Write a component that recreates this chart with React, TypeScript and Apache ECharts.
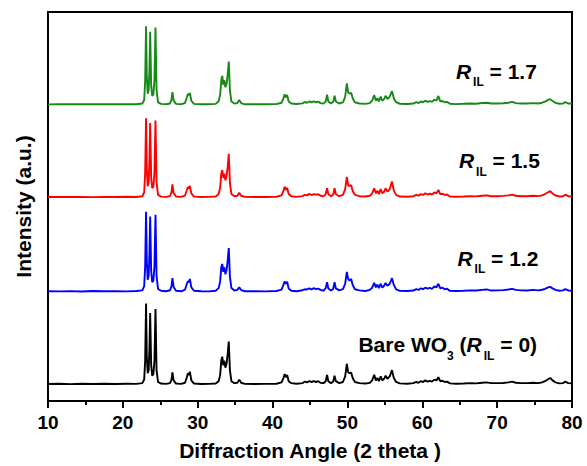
import React, { useEffect, useRef } from "react";
import * as echarts from "echarts";

// Diffraction angle (2θ, degrees) shared by all four patterns
const twoTheta = [
  10.0, 11.5, 13.0, 14.5, 16.0, 17.5, 19.0, 20.5, 21.8, 22.6,
  22.85, 22.98, 23.1, 23.2, 23.32, 23.45, 23.55, 23.65, 23.78, 23.92,
  24.08, 24.22, 24.36, 24.5, 24.7, 25.1, 25.8, 26.3, 26.5, 26.62,
  26.78, 27.1, 27.8, 28.3, 28.55, 28.68, 28.82, 28.95, 29.15, 29.5,
  30.5, 31.5, 32.4, 32.8, 33.0, 33.15, 33.28, 33.42, 33.55, 33.7,
  33.85, 34.0, 34.15, 34.3, 34.5, 34.9, 35.3, 35.55, 35.8, 36.3,
  37.5, 39.0, 40.5, 41.2, 41.45, 41.62, 41.78, 41.95, 42.15, 42.5,
  43.2, 44.0, 44.3, 44.6, 44.9, 45.2, 45.5, 45.8, 46.1, 46.4,
  46.8, 47.1, 47.28, 47.45, 47.8, 48.1, 48.28, 48.45, 48.9, 49.4,
  49.7, 49.92, 50.1, 50.3, 50.5, 50.7, 51.0, 51.6, 52.4, 53.0,
  53.3, 53.58, 53.8, 54.0, 54.2, 54.45, 54.65, 54.9, 55.1, 55.35,
  55.65, 55.95, 56.2, 56.5, 57.0, 58.0, 58.8, 59.2, 59.5, 59.8,
  60.1, 60.4, 60.7, 61.0, 61.3, 61.6, 61.9, 62.15, 62.4, 62.7,
  63.0, 63.3, 63.7, 64.5, 65.5, 66.4, 67.2, 68.0, 68.6, 69.2,
  70.0, 70.8, 71.5, 72.0, 72.5, 73.2, 74.0, 74.8, 75.5, 76.0,
  76.4, 76.8, 77.1, 77.4, 77.8, 78.3, 78.8, 79.1, 79.5, 80.0,
];

// Intensities (a.u.) for each sample
const bareWO3 = [
  0.5, 0.8, 0.3, 0.7, 0.4, 0.8, 0.4, 0.7, 0.6, 1.5,
  6, 30, 102, 35, 14, 18, 45, 90, 25, 11,
  13, 30, 95, 18, 3, 1, 0.6, 1.5, 6, 15,
  5, 1, 0.6, 2, 9, 14, 12, 16, 5, 1,
  0.5, 0.6, 1, 4, 12, 30, 35, 24, 30, 21,
  26, 38, 54, 18, 4, 1.5, 2, 6, 2, 0.6,
  0.4, 0.6, 0.8, 2.5, 8, 13, 9, 12, 4, 1.5,
  0.8, 1.5, 3.5, 2.5, 4, 3, 4, 3, 4, 2,
  1.5, 4, 12, 4, 1.5, 3.5, 11, 4, 1.5, 3,
  10, 26, 15, 14, 15, 8, 3, 1.5, 1, 2,
  5, 12, 5, 8, 4, 10, 5, 7, 11, 7,
  10, 18, 8, 3, 1.2, 0.8, 1.5, 3, 2, 4,
  3, 5, 3.5, 4.5, 3.5, 6, 5, 9, 4, 4.5,
  3, 3.5, 1.2, 0.8, 1, 1.5, 1.2, 2, 2.5, 1.5,
  1.5, 1.8, 2.5, 3.5, 2, 1.5, 1.5, 2, 1.5, 2.5,
  4, 6.5, 8, 5, 2.5, 1.2, 1.5, 3.5, 1.5, 1.2,
];

const ril12 = [
  0.6, 0.4, 0.7, 0.3, 0.8, 0.5, 0.6, 0.4, 0.8, 1.6,
  7, 32, 101, 38, 15, 20, 48, 95, 27, 12,
  14, 32, 97, 20, 3.5, 1.2, 0.5, 1.8, 7, 17,
  6, 1.2, 0.5, 2.5, 10, 13, 12, 16, 5.5, 1.2,
  0.6, 0.4, 1.2, 4.5, 13, 31, 35, 25, 31, 22,
  27, 39, 55, 19, 4.5, 1.5, 2.2, 5.5, 2, 0.5,
  0.6, 0.4, 0.9, 2.5, 8.5, 13, 10, 12.5, 4, 1.2,
  0.6, 1.8, 3, 2.8, 4.2, 2.8, 4.5, 3.2, 3.8, 2.2,
  1.2, 4.5, 12, 4, 1.4, 3.5, 12, 4.2, 1.6, 3.2,
  10, 25, 16, 14, 16, 8.5, 3, 1.6, 0.9, 2.2,
  5, 11, 5.5, 9, 4.5, 10, 5, 7.5, 11, 7.5,
  10, 17, 8.5, 3, 1, 0.9, 1.4, 3.2, 2.2, 4.2,
  3.2, 5, 3.8, 4.8, 3.6, 6.5, 5.5, 10, 4.2, 5,
  3, 3.8, 1, 0.8, 1.2, 1.6, 1.4, 2.2, 2.8, 1.4,
  1.6, 2, 2.8, 3.6, 2.2, 1.6, 1.4, 2.2, 1.6, 2.4,
  3.5, 5.5, 6, 4.2, 2.2, 1.2, 1.6, 3.2, 1.5, 1.2,
];

const ril15 = [
  0.5, 0.7, 0.5, 0.6, 0.3, 0.7, 0.5, 0.8, 0.5, 1.4,
  6.5, 31, 100, 36, 14, 19, 46, 94, 26, 11.5,
  13.5, 31, 97, 19, 3.2, 1, 0.6, 1.6, 6.5, 16.5,
  5.5, 1.1, 0.6, 2.2, 9, 13, 11.5, 14.5, 5, 1,
  0.5, 0.7, 1.1, 4.2, 12.5, 30, 34.5, 24.5, 30, 21.5,
  26.5, 38.5, 55, 18.5, 4.2, 1.4, 2.1, 6, 2.1, 0.6,
  0.5, 0.5, 0.8, 2.6, 8.2, 13.5, 9.5, 12, 4.2, 1.4,
  0.7, 1.6, 3.2, 2.6, 4.4, 3, 4.2, 3.4, 4, 2.1,
  1.3, 4.2, 11.5, 4.1, 1.5, 3.4, 11.5, 4, 1.5, 3.1,
  10.5, 26, 15, 14.5, 15.5, 8, 3.2, 1.5, 1.1, 2.1,
  5.2, 11.5, 5.2, 8.5, 4.2, 10.5, 5.2, 7.2, 11.5, 7.2,
  10.5, 20, 8.5, 3.2, 1.1, 0.8, 1.5, 3.1, 2.1, 4.1,
  3.1, 5.2, 3.6, 4.6, 3.4, 6.2, 5.2, 9.5, 4.1, 4.6,
  3.1, 3.6, 1.1, 0.8, 1.1, 1.5, 1.3, 2.1, 2.6, 1.5,
  1.5, 1.9, 2.6, 3.5, 2.1, 1.5, 1.5, 2.1, 1.6, 2.6,
  4.2, 6.5, 8, 5, 2.4, 1.2, 1.5, 3.4, 1.5, 1.2,
];

const ril17 = [
  0.4, 0.6, 0.6, 0.5, 0.5, 0.6, 0.7, 0.5, 0.6, 1.5,
  6, 30, 99, 36, 14, 18, 44, 92, 25, 11,
  13, 31, 97.5, 19, 3, 1, 0.5, 1.5, 6.5, 16,
  5.2, 1, 0.6, 2.1, 9.5, 13.5, 12, 15, 5, 1,
  0.6, 0.5, 1, 4.3, 13, 31, 36.5, 25, 31, 22,
  26, 38, 54.5, 18, 4, 1.5, 2, 5.8, 2, 0.5,
  0.5, 0.6, 0.7, 2.4, 8, 13, 9.2, 12.2, 4.1, 1.5,
  0.8, 1.7, 3.4, 2.4, 4.1, 3.1, 4.1, 3.1, 3.9, 2,
  1.4, 4.1, 12.5, 4.1, 1.4, 3.6, 11.5, 4.1, 1.5, 3,
  10, 27, 15.5, 14, 15, 8.2, 3.1, 1.5, 1, 2,
  5.1, 12, 5, 8.2, 4.1, 10.2, 5, 7, 11.2, 7.1,
  10.2, 17, 8.2, 3.1, 1.2, 0.8, 1.5, 3.1, 2, 4.1,
  3.1, 5.1, 3.5, 4.6, 3.6, 6.2, 5.2, 11, 4.2, 4.6,
  3.1, 3.5, 1.2, 0.7, 1.1, 1.5, 1.2, 2.1, 2.5, 1.5,
  1.5, 1.8, 2.5, 3.5, 2, 1.5, 1.5, 2, 1.5, 2.5,
  3.8, 6, 7, 4.6, 2.3, 1.2, 1.5, 3.3, 1.5, 1.2,
];

// Vertical stacking offset of each pattern (a.u.), bottom to top
const stackOffsets = [21, 138, 257, 374];
const seriesNames = ["Bare WO3", "RIL = 1.2", "RIL = 1.5", "RIL = 1.7"];
const seriesColors = ["#000000", "#0000ff", "#ff0000", "#168a16"];

// Sample labels: [text, kind] with kind n = normal, i = italic, s = subscript
const sampleLabels: [string, string][][] = [
  [["Bare WO", "n"], ["3", "s"], [" (", "n"], ["R", "i"], ["IL", "s"], [" = 0)", "n"]],
  [["R", "i"], ["IL", "s"], [" = 1.2", "n"]],
  [["R", "i"], ["IL", "s"], [" = 1.5", "n"]],
  [["R", "i"], ["IL", "s"], [" = 1.7", "n"]],
];
// Label anchor in data coordinates: [2θ centre, height above baseline]
const labelAnchors: [number, number][] = [
  [63.4, 50],
  [70.1, 42],
  [70.3, 46],
  [69.9, 42],
];

const FONT = '"Liberation Sans", Arial, Helvetica, sans-serif';

function measure(ctx: CanvasRenderingContext2D, text: string, font: string) {
  ctx.font = font;
  return ctx.measureText(text).width;
}

function buildLabel(
  ctx: CanvasRenderingContext2D,
  parts: [string, string][],
  cx: number,
  cy: number
) {
  const size = 21;
  const subSize = 12;
  let x = 0;
  const children: any[] = [];
  parts.forEach(([t, kind]) => {
    const italic = kind === "i";
    const sub = kind === "s";
    const fs = sub ? subSize : size;
    const font = `${italic ? "italic " : ""}bold ${fs}px ${FONT}`;
    children.push({
      type: "text",
      x,
      y: sub ? 11 : 0,
      style: {
        text: t,
        fill: "#000",
        fontSize: fs,
        fontWeight: "bold",
        fontStyle: italic ? "italic" : "normal",
        fontFamily: FONT,
        align: "left",
        verticalAlign: "middle",
      },
    });
    x += measure(ctx, t, font) + (italic ? 2 : 0);
  });
  return {
    type: "group",
    x: cx - x / 2,
    y: cy,
    children,
  };
}

export default function App() {
  const ref = useRef<HTMLDivElement>(null);

  useEffect(() => {
    if (!ref.current) return;
    const chart = echarts.init(ref.current, undefined, { renderer: "svg" });
    const patterns = [bareWO3, ril12, ril15, ril17];

    chart.setOption({
      animation: false,
      backgroundColor: "#ffffff",
      textStyle: { fontFamily: FONT },
      grid: {
        left: 48,
        right: 15,
        top: 12,
        bottom: 61,
        show: true,
        borderColor: "#000",
        borderWidth: 2,
        backgroundColor: "transparent",
      },
      xAxis: {
        type: "value",
        min: 10,
        max: 80,
        interval: 10,
        name: "Diffraction Angle (2 theta )",
        nameLocation: "middle",
        nameGap: 39,
        nameTextStyle: { fontSize: 21, fontWeight: "bold", color: "#000", fontFamily: FONT },
        axisLine: { show: true, lineStyle: { color: "#000", width: 2 } },
        axisTick: { show: true, inside: false, length: 7, lineStyle: { color: "#000", width: 2 } },
        minorTick: { show: true, splitNumber: 2, length: 4, lineStyle: { color: "#000", width: 2 } },
        axisLabel: { fontSize: 19, fontWeight: "bold", color: "#000", margin: 12, fontFamily: FONT },
        splitLine: { show: false },
      },
      yAxis: {
        type: "value",
        min: 0,
        max: 491,
        name: "Intensity (a.u.)",
        nameLocation: "middle",
        nameGap: 14,
        nameTextStyle: { fontSize: 21, fontWeight: "bold", color: "#000", fontFamily: FONT },
        axisLine: { show: true, lineStyle: { color: "#000", width: 2 } },
        axisTick: { show: false },
        axisLabel: { show: false },
        splitLine: { show: false },
      },
      series: patterns.map((vals, k) => ({
        name: seriesNames[k],
        type: "line",
        showSymbol: false,
        symbol: "none",
        data: twoTheta.map((t, i) => [t, vals[i] + stackOffsets[k]]),
        lineStyle: { color: seriesColors[k], width: 1.9 },
        itemStyle: { color: seriesColors[k] },
        z: 2 + k,
      })),
    });

    const canvas = document.createElement("canvas");
    const ctx = canvas.getContext("2d") as CanvasRenderingContext2D;
    const graphics = sampleLabels.map((parts, k) => {
      const [ax, ay] = labelAnchors[k];
      const [px, py] = chart.convertToPixel({ gridIndex: 0 }, [ax, ay + stackOffsets[k]]) as number[];
      return buildLabel(ctx, parts, px, py);
    });
    chart.setOption({ graphic: graphics });

    return () => chart.dispose();
  }, []);

  return (
    <div
      style={{ position: "fixed", left: 0, top: 0, width: 587, height: 466, background: "#fff" }}
    >
      <div ref={ref} style={{ width: 587, height: 466 }} />
    </div>
  );
}
